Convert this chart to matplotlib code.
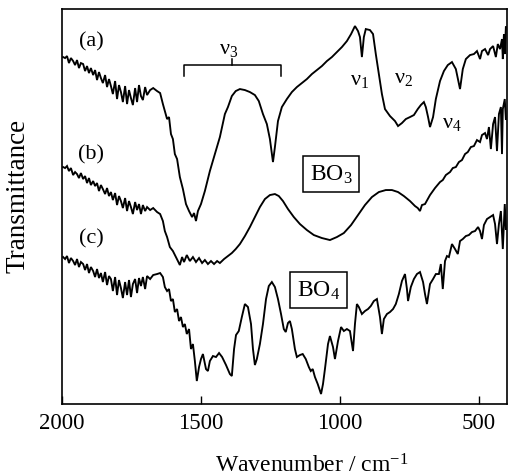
import matplotlib
matplotlib.use("Agg")
import matplotlib.pyplot as plt

plt.rcParams['font.family'] = ['Liberation Serif', 'DejaVu Serif']
plt.rcParams['mathtext.fontset'] = 'custom'
plt.rcParams['mathtext.rm'] = 'Liberation Serif'
plt.rcParams['mathtext.it'] = 'Liberation Serif:italic'

# ---- data (wavenumber / cm-1, transmittance in arbitrary units) ----
wn_a = [1996, 1989, 1982, 1975, 1968, 1960, 1953, 1946, 1939, 1932, 1924, 1917, 1910, 1903, 1896, 1888,
        1881, 1874, 1867, 1860, 1853, 1845, 1838, 1831, 1824, 1817, 1809, 1802, 1795, 1788, 1781, 1773,
        1766, 1759, 1752, 1745, 1737, 1730, 1723, 1716, 1709, 1701, 1694, 1683, 1672, 1658, 1647, 1637,
        1630, 1622, 1615, 1608, 1601, 1594, 1586, 1576, 1565, 1554, 1543, 1532, 1525, 1518, 1511, 1500,
        1486, 1468, 1450, 1432, 1414, 1403, 1389, 1375, 1360, 1342, 1324, 1306, 1292, 1277, 1263, 1252,
        1245, 1241, 1234, 1223, 1209, 1191, 1173, 1155, 1137, 1119, 1101, 1083, 1065, 1047, 1029, 1011,
        993, 975, 960, 946, 935, 928, 921, 914, 907, 892, 881, 871, 860, 849, 838, 820, 802, 791, 777,
        763, 748, 734, 720, 709, 698, 691, 683, 676, 665, 655, 640, 626, 612, 597, 583, 568, 558, 547,
        532, 518, 507, 496, 489, 478, 467, 460, 449, 439, 432, 424, 417, 414, 410, 407, 403]
t_a = [347, 346, 348, 341, 346, 343, 339, 344, 336, 341, 340, 333, 338, 331, 336, 329,
       334, 324, 332, 326, 321, 329, 317, 325, 318, 310, 323, 305, 319, 312, 302, 318,
       300, 314, 306, 299, 316, 302, 319, 308, 304, 317, 309, 314, 316, 313, 311, 300,
       293, 285, 287, 270, 265, 250, 245, 227, 215, 200, 193, 187, 191, 183, 193, 200,
       213, 233, 250, 267, 290, 297, 308, 313, 315, 314, 312, 309, 303, 290, 280, 265,
       250, 242, 257, 283, 297, 305, 312, 317, 321, 325, 330, 334, 338, 343, 347, 352,
       357, 363, 370, 378, 373, 367, 347, 367, 375, 374, 370, 350, 330, 310, 295, 288, 283, 278, 281,
       285, 287, 289, 295, 299, 302, 297, 287, 277, 287, 305, 323, 333, 339, 342, 335, 315, 335, 345,
       349, 350, 353, 345, 353, 355, 349, 355, 358, 347, 360, 355, 365, 345, 370, 350, 377]

wn_b = [1996, 1989, 1982, 1975, 1968, 1960, 1953, 1946, 1939, 1932, 1924, 1917, 1910, 1903, 1896, 1888,
        1881, 1874, 1867, 1860, 1853, 1845, 1838, 1831, 1824, 1817, 1809, 1802, 1795, 1788, 1781, 1773,
        1766, 1759, 1752, 1745, 1737, 1730, 1723, 1716, 1709, 1701, 1694, 1683, 1672, 1658, 1647, 1637,
        1630, 1622, 1612, 1601, 1590, 1583, 1576, 1568, 1561, 1551, 1540, 1529, 1518, 1507, 1496, 1486,
        1475, 1464, 1453, 1442, 1432, 1417, 1403, 1389, 1375, 1360, 1342, 1324, 1306, 1288, 1270, 1252,
        1234, 1220, 1205, 1187, 1166, 1144, 1119, 1094, 1065, 1036, 1011, 986, 960, 935, 910, 885, 860,
        835, 813, 791, 770, 748, 730, 720, 712, 705, 694, 676, 658, 640, 630, 619, 604, 594, 583, 572,
        561, 550, 540, 529, 518, 507, 496, 489, 478, 471, 464, 457, 449, 442, 435, 428, 421, 417, 414,
        407, 403]
t_b = [237, 236, 238, 233, 236, 229, 232, 230, 226, 231, 225, 228, 221, 226, 219, 223,
       218, 221, 213, 219, 215, 210, 216, 208, 212, 204, 211, 199, 208, 203, 196, 206,
       193, 203, 197, 190, 202, 194, 200, 190, 199, 193, 197, 194, 196, 192, 190, 183,
       173, 167, 157, 153, 147, 143, 139, 147, 142, 149, 143, 147, 142, 146, 141, 144,
       140, 143, 140, 143, 141, 145, 148, 151, 155, 160, 168, 177, 187, 197, 205, 209,
       210, 208, 203, 195, 187, 180, 174, 169, 166, 164, 167, 171, 179, 189, 199, 207, 212,
       214, 214, 212, 208, 203, 198, 196, 193, 199, 200, 209, 216, 222, 224, 229, 232, 236, 237, 242,
       244, 250, 252, 257, 258, 264, 262, 269, 271, 265, 277, 255, 280, 287, 253, 290, 297, 250, 295,
       305, 285]

wn_c = [1996, 1989, 1982, 1975, 1968, 1960, 1953, 1946, 1939, 1932, 1924, 1917, 1910, 1903, 1896, 1888,
        1881, 1874, 1867, 1860, 1853, 1845, 1838, 1831, 1824, 1817, 1809, 1802, 1795, 1788, 1781, 1773,
        1766, 1759, 1752, 1745, 1737, 1730, 1723, 1716, 1709, 1701, 1694, 1683, 1672, 1658, 1647, 1637,
        1630, 1622, 1615, 1608, 1601, 1594, 1586, 1579, 1572, 1565, 1558, 1551, 1543, 1536, 1529, 1522,
        1515, 1507, 1500, 1493, 1482, 1475, 1468, 1457, 1446, 1435, 1424, 1410, 1396, 1389, 1381, 1374,
        1364, 1353, 1342, 1331, 1320, 1313, 1306, 1299, 1288, 1277, 1266, 1256, 1245, 1234, 1223, 1212,
        1202, 1195, 1187, 1180, 1173, 1162, 1155, 1144, 1134, 1123, 1112, 1105, 1098, 1090, 1080, 1068,
        1061, 1054, 1043, 1036, 1025, 1018, 1007, 996, 986, 975, 964, 953, 946, 939, 932, 921, 910, 899,
        889, 878, 867, 856, 849, 842, 831, 820, 809, 799, 788, 777, 766, 759, 755, 745, 734, 723, 712,
        701, 694, 687, 676, 665, 655, 644, 637, 630, 622, 615, 608, 597, 586, 576, 568, 558, 547, 536,
        525, 514, 503, 496, 489, 482, 471, 460, 449, 442, 435, 428, 421, 414, 407, 403]
t_c = [147, 145, 148, 141, 146, 143, 139, 145, 137, 142, 140, 134, 140, 131, 137, 133,
       127, 135, 126, 131, 122, 132, 119, 128, 125, 113, 127, 109, 124, 116, 106, 122,
       109, 124, 107, 120, 125, 111, 126, 118, 127, 115, 128, 125, 129, 130, 131, 127,
       117, 113, 115, 103, 105, 92, 95, 83, 87, 77, 80, 70, 75, 55, 60, 43,
       23, 37, 45, 50, 35, 33, 43, 48, 47, 51, 47, 39, 30, 28, 55, 69,
       73, 87, 100, 97, 80, 55, 39, 45, 60, 80, 105, 118, 122, 117, 105, 90,
       75, 72, 81, 83, 75, 55, 47, 49, 50, 45, 37, 33, 35, 27, 20, 10,
       20, 35, 60, 68, 57, 45, 63, 77, 73, 75, 73, 53, 80, 100, 97, 90, 93, 95,
       98, 103, 105, 87, 70, 85, 90, 92, 95, 100, 110, 123, 130, 115, 103, 117, 125, 130, 132,
       122, 110, 100, 120, 125, 130, 130, 140, 115, 143, 148, 147, 160, 155, 150, 163, 165, 168, 169,
       172, 173, 177, 173, 165, 179, 185, 187, 189, 180, 160, 180, 193, 155, 200, 175]

tick_vals = [2000, 1500, 1000, 500]
tick_labels = ['2000', '1500', '1000', '500']

fig = plt.figure(figsize=(5.10, 4.77), dpi=100)
ax = fig.add_axes([0.1216, 0.1509, 0.8725, 0.828])

for wn, t in [(wn_a, t_a), (wn_b, t_b), (wn_c, t_c)]:
    ax.plot(wn, t, color='black', lw=1.35, solid_joinstyle='miter')

ax.set_xlim(2000, 399)
ax.set_ylim(0, 395)
ax.set_xticks(tick_vals)
ax.set_xticklabels(tick_labels, fontsize=16.5)
ax.set_yticks([])
ax.tick_params(axis='x', direction='in', length=6, width=1, pad=6, top=False)
for s in ax.spines.values():
    s.set_linewidth(1.2)

ax.set_xlabel('Wavenumber / cm$^{-1}$', fontsize=17)
ax.xaxis.set_label_coords(0.56, -0.125)
ax.set_ylabel('Transmittance', fontsize=19.5)
ax.yaxis.set_label_coords(-0.07, 0.53)

fs = 16
ax.text(1896, 363, '(a)', fontsize=fs, ha='center', va='center')
ax.text(1896, 250, '(b)', fontsize=fs, ha='center', va='center')
ax.text(1896, 166, '(c)', fontsize=fs, ha='center', va='center')

# nu3 bracket
ax.plot([1561, 1561, 1212, 1212], [328, 339, 339, 328], color='black', lw=1.1)
ax.plot([1389, 1389], [339, 345], color='black', lw=1.1)
ax.text(1399, 356, 'ν$_3$', fontsize=fs, ha='center', va='center')
ax.text(928, 325, 'ν$_1$', fontsize=fs, ha='center', va='center')
ax.text(770, 327, 'ν$_2$', fontsize=fs, ha='center', va='center')
ax.text(597, 282, 'ν$_4$', fontsize=fs, ha='center', va='center')

box = dict(boxstyle='square,pad=0.3', fc='white', ec='black', lw=1.1)
ax.text(1032, 230, 'BO$_3$', fontsize=17, ha='center', va='center', bbox=box)
ax.text(1076, 114, 'BO$_4$', fontsize=17, ha='center', va='center', bbox=box)

fig.savefig('out.png', dpi=100)
